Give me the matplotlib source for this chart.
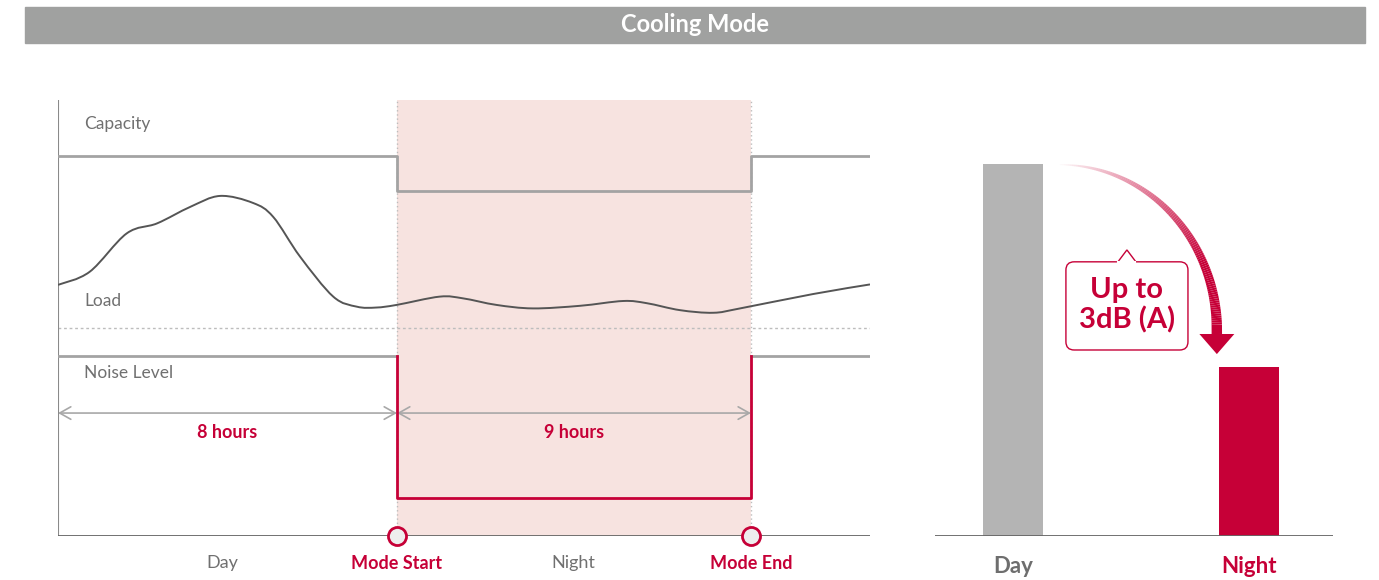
import numpy as np
import matplotlib.pyplot as plt
from matplotlib.patches import Rectangle, FancyBboxPatch, Polygon, PathPatch
from matplotlib.path import Path
from matplotlib.collections import LineCollection

plt.rcParams['font.family'] = ['Lato', 'DejaVu Sans']

# --- data (schematic units: timeline 0..100, level 0..100) ---
mode_start = 41.75
mode_end = 85.34
cap_high, cap_low = 87.2, 79.1
noise_high, noise_low = 41.3, 8.7
ref_level = 47.7
arrow_y = 28.2

load_x = [0, 3.9, 8.46, 12.2, 16.3, 19.95, 24.0, 26.5, 29.8, 33.9, 36.8, 39.2, 41.7,
          47.0, 49.9, 54.0, 58.5, 64.3, 69.6, 72.5, 76.6, 80.7, 84.0, 93.0, 100]
load_y = [57.6, 60.6, 69.4, 71.7, 75.5, 78.0, 76.4, 73.2, 64.1, 54.9, 52.6, 52.4, 53.0,
          54.9, 54.5, 53.0, 52.2, 52.8, 53.9, 53.4, 51.8, 51.2, 52.2, 55.5, 57.7]

bar_labels = ["Day", "Night"]
bar_values = [100, 45.4]

RED = '#c60037'
GRAY_TXT = '#707070'

fig = plt.figure(figsize=(13.79, 5.8), dpi=100)

# title bar
fig.patches.append(Rectangle((25 / 1379, 1 - 43 / 580), 1340 / 1379, 36 / 580,
                             transform=fig.transFigure, color='#a0a1a0', zorder=0))
fig.text(695 / 1379, 1 - 24 / 580, "Cooling Mode", color='white', fontsize=17,
         fontweight='bold', ha='center', va='center')

# ---------------- left timeline chart ----------------
ax = fig.add_axes([58 / 1379, 44 / 580, 812 / 1379, 436 / 580])
ax.set_xlim(0, 100)
ax.set_ylim(0, 100)
ax.axis('off')

ax.axvspan(mode_start, mode_end, color='#f7e3e0', zorder=0, lw=0)
for xv in (mode_start, mode_end):
    ax.plot([xv, xv], [0, 100], color='#bdbdbd', lw=1, ls=(0, (1, 2)), zorder=1)
ax.plot([0, 100], [ref_level, ref_level], color='#bdbdbd', lw=1, ls=(0, (2, 2)), zorder=1)

# axes lines
ax.plot([0, 0], [0, 100], color='#8a8a8a', lw=1.5, zorder=2, solid_capstyle='butt')
ax.plot([0, 100], [0, 0], color='#666666', lw=1.3, zorder=2)

# capacity
ax.plot([0, mode_start, mode_start, mode_end, mode_end, 100],
        [cap_high, cap_high, cap_low, cap_low, cap_high, cap_high],
        color='#a3a3a3', lw=2, zorder=3)

# load curve (Catmull-Rom drawn as bezier path)
P = np.column_stack([load_x, load_y])
verts = [P[0]]
codes = [Path.MOVETO]
n = len(P)
for i in range(n - 1):
    p0 = P[i - 1] if i > 0 else P[i]
    p1, p2 = P[i], P[i + 1]
    p3 = P[i + 2] if i + 2 < n else P[i + 1]
    verts += [p1 + (p2 - p0) / 6, p2 - (p3 - p1) / 6, p2]
    codes += [Path.CURVE4] * 3
ax.add_patch(PathPatch(Path(verts, codes), fill=False, edgecolor='#555555', lw=1.4, zorder=3))

# noise level
ax.plot([0, mode_start], [noise_high, noise_high], color='#a3a3a3', lw=2, zorder=3)
ax.plot([mode_end, 100], [noise_high, noise_high], color='#a3a3a3', lw=2, zorder=3)
ax.plot([mode_start, mode_start, mode_end, mode_end],
        [noise_high, noise_low, noise_low, noise_high], color=RED, lw=2, zorder=4)

# labels
for txt, yv in (("Capacity", 94.6), ("Load", 53.8), ("Noise Level", 37.3)):
    ax.text(3.2, yv, txt, color=GRAY_TXT, fontsize=12.5, ha='left', va='center')

# duration arrows
for x0, x1, lab in ((0, mode_start, "8 hours"), (mode_start, mode_end, "9 hours")):
    ax.annotate("", xy=(x1, arrow_y), xytext=(x0, arrow_y),
                arrowprops=dict(arrowstyle='<->,head_length=0.8,head_width=0.45',
                                color='#a8a8a8', lw=1.2, shrinkA=0, shrinkB=0), zorder=3)
    ax.text((x0 + x1) / 2, arrow_y - 4.4, lab, color=RED, fontsize=13,
            fontweight='bold', ha='center', va='center')

# mode markers
for xv in (mode_start, mode_end):
    ax.plot(xv, 0, 'o', ms=13, mfc='#eeeeee', mec=RED, mew=2, zorder=5, clip_on=False)

for txt, xv, col, fw in (("Day", 20.2, GRAY_TXT, 'normal'), ("Mode Start", mode_start, RED, 'bold'),
                         ("Night", 63.5, GRAY_TXT, 'normal'), ("Mode End", mode_end, RED, 'bold')):
    ax.text(xv, -6.3, txt, color=col, fontsize=13, fontweight=fw, ha='center', va='center')

# ---------------- right bar chart ----------------
bx = fig.add_axes([935 / 1379, 44 / 580, 398 / 1379, 436 / 580])
bx.set_xlim(-0.33, 1.356)
bx.set_ylim(0, 117.2)
bx.axis('off')
bx.bar([0, 1], bar_values, width=0.254, color=['#b4b4b4', RED], zorder=2)
bx.plot([-0.33, 1.356], [0, 0], color='#666666', lw=1.3, zorder=3)
for i, (lab, col) in enumerate(zip(bar_labels, ['#6e6e6e', RED])):
    bx.text(i, -8.1, lab, color=col, fontsize=16, fontweight='bold', ha='center', va='center')

# curved gradient arrow
cx, cy, rx, ry = 0.199, 55.4, 0.665, 44.4
t = np.linspace(np.pi / 2, 0.02, 120)
xs = cx + rx * np.cos(t)
ys = cy + ry * np.sin(t)
ys[-1] = 54.3
segs = [[(xs[i], ys[i]), (xs[i + 1], ys[i + 1])] for i in range(len(xs) - 1)]
frac = np.linspace(0, 1, len(segs))
cols = [(0.776, 0.0, 0.216, min(1, 0.03 + 1.3 * f)) for f in frac]
lws = 0.5 + 7.0 * frac ** 0.8
bx.add_collection(LineCollection(segs, colors=cols, linewidths=lws, capstyle='butt', zorder=4))
bx.add_patch(Polygon([(cx + rx - 0.074, 54.3), (cx + rx + 0.074, 54.3), (cx + rx, 48.9)],
                     closed=True, color=RED, lw=0, zorder=4))

# callout box
bx.add_patch(FancyBboxPatch((0.2246, 50.0), 0.517, 23.7,
                            boxstyle='round,pad=0,rounding_size=0.035',
                            mutation_aspect=117.2 / 1.686 * 398 / 436,
                            facecolor='white', edgecolor=RED, lw=1, zorder=5))
bx.add_patch(Polygon([(0.445, 73.7), (0.483, 76.9), (0.521, 73.7)], closed=False,
                     facecolor='white', edgecolor=RED, lw=1, zorder=6))
bx.plot([0.447, 0.519], [73.7, 73.7], color='white', lw=1.5, zorder=7)
bx.text(0.483, 62.0, "Up to\n3dB (A)", color=RED, fontsize=21, fontweight='bold',
        ha='center', va='center', linespacing=1.15, zorder=8)

fig.savefig("out.png", dpi=100)
